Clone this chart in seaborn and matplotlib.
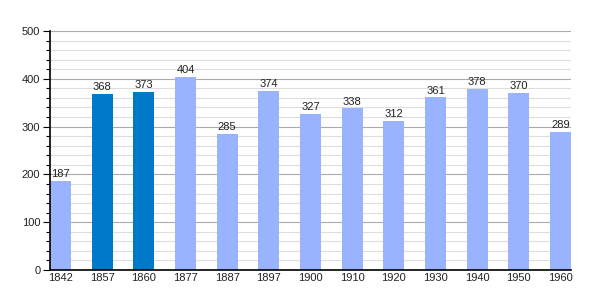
import matplotlib
matplotlib.use("Agg")
import matplotlib.pyplot as plt
import seaborn as sns
import pandas as pd
from matplotlib.ticker import MultipleLocator

years = ["1842", "1857", "1860", "1877", "1887", "1897", "1900", "1910", "1920", "1930", "1940", "1950", "1960"]
population = [187, 368, 373, 404, 285, 374, 327, 338, 312, 361, 378, 370, 289]
highlight = [False, True, True, False, False, False, False, False, False, False, False, False, False]

sns.set_theme(style="white")
plt.rcParams['font.family'] = ['Liberation Sans', 'DejaVu Sans']

df = pd.DataFrame({"year": years, "pop": population,
                   "kind": ["dark" if h else "light" for h in highlight]})

fig = plt.figure(figsize=(6, 3), dpi=100)
ax = fig.add_axes([50/600, 0.1, 521/600, 239/300])

sns.barplot(data=df, x="year", y="pop", hue="kind",
            palette={"light": "#99B3FF", "dark": "#0079C8"},
            width=0.5, dodge=False, legend=False, ax=ax, zorder=3,
            saturation=1, edgecolor="none", linewidth=0)

ax.set_xlim(-0.25, 12.25)
ax.set_ylim(0, 500)
ax.yaxis.set_major_locator(MultipleLocator(100))
ax.yaxis.set_minor_locator(MultipleLocator(20))
ax.grid(which="major", axis="y", color="#AAAAAA", linewidth=0.8, zorder=0)
ax.grid(which="minor", axis="y", color="#DDDDDD", linewidth=0.8, zorder=0)
ax.set_axisbelow(True)

for s in ["top", "right"]:
    ax.spines[s].set_visible(False)
for s in ["left", "bottom"]:
    ax.spines[s].set_color("black")
    ax.spines[s].set_linewidth(1.2)
    ax.spines[s].set_zorder(5)

ax.tick_params(axis="y", which="major", left=True, length=5, width=0.8, color="black", labelsize=8, pad=2, labelcolor="#222222")
ax.tick_params(axis="y", which="minor", left=True, length=3, width=0.8, color="black")
ax.tick_params(axis="x", bottom=False, length=0, labelsize=8, pad=2, labelcolor="#222222")
ax.set_xlabel("")
ax.set_ylabel("")

for i, v in enumerate(population):
    ax.text(i, v + 4, str(v), ha="center", va="bottom", fontsize=8, color="#222222", zorder=4)

fig.savefig("out.png", dpi=100)
